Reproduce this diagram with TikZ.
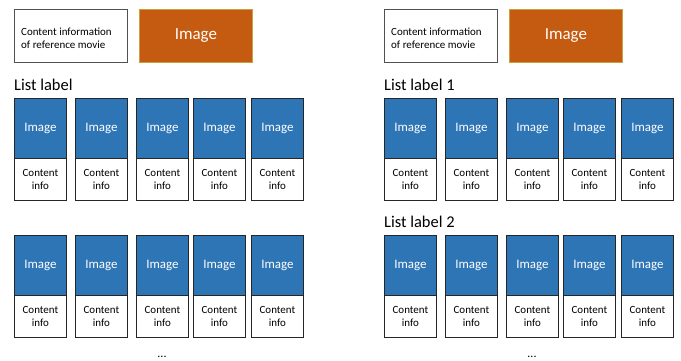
\documentclass[tikz,border=0pt]{standalone}
\usepackage{fontspec}
\setmainfont{Carlito}
\definecolor{cardblue}{HTML}{2E75B6}
\definecolor{refor}{HTML}{C55A11}
\definecolor{refline}{HTML}{C9A040}
\definecolor{edge}{HTML}{262626}
\begin{document}
\begin{tikzpicture}[x=1bp,y=-1bp,
  imgbox/.style={draw=edge, fill=cardblue, line width=0.9bp, minimum width=52bp, minimum height=60bp, inner sep=0pt, anchor=north west, text=white, font=\fontsize{13}{15}\selectfont},
  infobox/.style={draw=edge, fill=white, line width=0.9bp, minimum width=52bp, minimum height=42bp, inner sep=0pt, anchor=north west, align=center, font=\fontsize{11}{13}\selectfont},
  refbox/.style={draw=edge!80, fill=white, line width=0.9bp, minimum width=113bp, minimum height=53bp, inner sep=0pt, anchor=north west},
  reftext/.style={align=left, anchor=west, inner sep=0pt, font=\fontsize{11}{13}\selectfont},
  orangebox/.style={draw=refline, fill=refor, line width=0.7bp, minimum width=113bp, minimum height=53bp, inner sep=0pt, anchor=north west, text=white, font=\fontsize{17}{20}\selectfont},
  listlabel/.style={anchor=base west, inner sep=0pt, font=\fontsize{16.5}{19}\selectfont},
  dotsstyle/.style={anchor=base, inner sep=0pt, font=\fontsize{12}{14}\selectfont}]
\useasboundingbox (0,0) rectangle (681,360);
% left panel
\node[refbox] (lref) at (14,9) {};
\node[reftext] (lreftxt) at (21,38) {Content information\\of reference movie};
\node[orangebox] (limg) at (139,9) {Image};
\node[listlabel] (llab) at (14,90) {List label};
% right panel
\node[refbox] (rref) at (384,9) {};
\node[reftext] (rreftxt) at (391,38) {Content information\\of reference movie};
\node[orangebox] (rimg) at (509,9) {Image};
\node[listlabel] (rlab1) at (384,90) {List label 1};
\node[listlabel] (rlab2) at (384,227) {List label 2};
% cards
\foreach \p/\off in {l/0,r/370}{
  \foreach \i/\x in {1/14,2/75,3/136,4/193,5/251}{
    \foreach \r/\y in {1/98,2/235}{
      \node[imgbox] (\p img\r\i) at (\x+\off,\y) {Image};
      \node[infobox] (\p info\r\i) at (\x+\off,\y+60) {Content\\info};
    }
  }
}
\node[dotsstyle] (ldots) at (162,357) {...};
\node[dotsstyle] (rdots) at (532,357) {...};
\end{tikzpicture}
\end{document}
